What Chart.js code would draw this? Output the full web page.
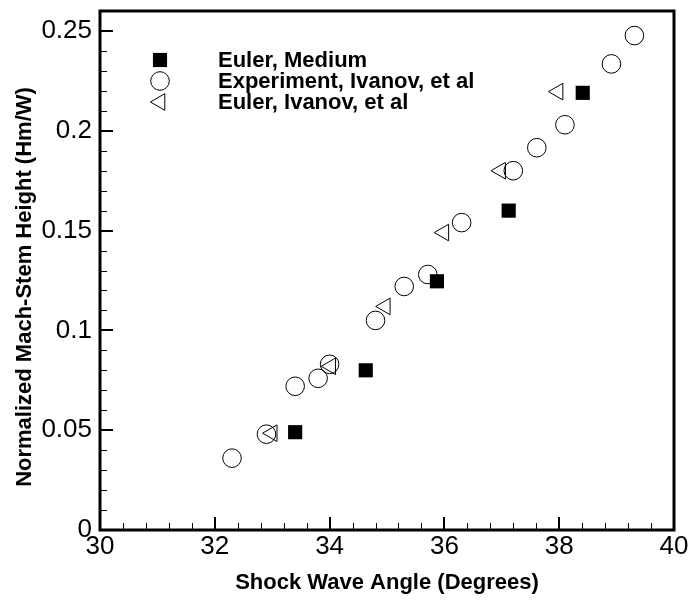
<!DOCTYPE html>
<html>
<head>
<meta charset="utf-8">
<title>Mach-stem height vs shock wave angle</title>
<script src="https://cdn.jsdelivr.net/npm/chart.js@4"></script>
<style>
  body { margin: 0; background: #fff; }
</style>
</head>
<body>
<canvas id="MyChart" width="691" height="603"></canvas>
<script>
// values
const eulerMediumX = [33.4, 34.63, 35.87, 37.12, 38.41];
const eulerMediumY = [0.049, 0.080, 0.1246, 0.160, 0.219];

const experimentX = [32.3, 32.9, 33.4, 33.8, 34.0, 34.8, 35.3, 35.71, 36.3, 37.2, 37.61, 38.1, 38.91, 39.31];
const experimentY = [0.036, 0.048, 0.072, 0.076, 0.083, 0.105, 0.122, 0.128, 0.154, 0.180, 0.1915, 0.203, 0.2335, 0.2477];

const eulerIvanovX = [33.0, 34.02, 34.97, 35.99, 36.98, 37.98];
const eulerIvanovY = [0.0485, 0.082, 0.112, 0.149, 0.180, 0.2196];

const seriesNames = ['Euler, Medium', 'Experiment, Ivanov, et al', 'Euler, Ivanov, et al'];

// tick labels
const xTicks = [30, 32, 34, 36, 38, 40];
const yTicks = [0, 0.05, 0.1, 0.15, 0.2, 0.25];

const yTitle = 'Normalized Mach-Stem Height (Hm/W)';

const FONT = "'Liberation Sans', Arial, Helvetica, sans-serif";

function toPoints(xs, ys) {
  return xs.map((x, i) => ({ x: x, y: ys[i] }));
}

// frame, inward ticks, y title and the legend box are drawn here
const decorations = {
  id: 'decorations',
  afterDraw(chart) {
    const ctx = chart.ctx;
    const area = chart.chartArea;
    const xs = chart.scales.x;
    const ys = chart.scales.y;
    ctx.save();
    ctx.strokeStyle = '#000';

    // minor ticks
    ctx.lineWidth = 1;
    ctx.beginPath();
    for (let v = 30; v <= 40.001; v += 0.4) {
      const px = Math.round(xs.getPixelForValue(v)) + 0.5;
      ctx.moveTo(px, area.bottom);
      ctx.lineTo(px, area.bottom - 7);
    }
    for (let v = 0; v <= 0.26; v += 0.01) {
      const py = Math.round(ys.getPixelForValue(v)) + 0.5;
      ctx.moveTo(area.left, py);
      ctx.lineTo(area.left + 7, py);
    }
    ctx.stroke();

    // major ticks
    ctx.lineWidth = 2;
    ctx.beginPath();
    xTicks.forEach((v) => {
      const px = Math.round(xs.getPixelForValue(v));
      ctx.moveTo(px, area.bottom);
      ctx.lineTo(px, area.bottom - 13);
    });
    yTicks.forEach((v) => {
      const py = Math.round(ys.getPixelForValue(v));
      ctx.moveTo(area.left, py);
      ctx.lineTo(area.left + 13, py);
    });
    ctx.stroke();

    // frame
    ctx.lineWidth = 3;
    ctx.strokeRect(area.left, area.top, area.right - area.left, area.bottom - area.top);

    // y axis title (sits a bit below the middle in the original)
    ctx.save();
    ctx.translate(25, 287);
    ctx.rotate(-Math.PI / 2);
    ctx.font = 'bold 22px ' + FONT;
    ctx.fillStyle = '#000';
    ctx.textAlign = 'center';
    ctx.textBaseline = 'middle';
    ctx.fillText(yTitle, 0, 0);
    ctx.restore();

    // legend
    ctx.font = 'bold 22px ' + FONT;
    ctx.textAlign = 'left';
    ctx.textBaseline = 'middle';
    chart.data.datasets.forEach((ds, i) => {
      const y = 60 + i * 21;
      ctx.fillStyle = ds.pointBackgroundColor;
      ctx.strokeStyle = '#000';
      ctx.lineWidth = ds.pointBorderWidth;
      Chart.helpers.drawPoint(ctx, {
        pointStyle: ds.pointStyle,
        radius: ds.pointRadius,
        rotation: ds.pointRotation || 0,
        borderWidth: ds.pointBorderWidth
      }, 160, y);
      ctx.fillStyle = '#000';
      ctx.fillText(ds.label, 218, y + 1);
    });
    ctx.restore();
  }
};

const ctx = document.getElementById('MyChart').getContext('2d');
const chart = new Chart(ctx, {
  type: 'scatter',
  data: {
    datasets: [
      {
        label: seriesNames[0],
        data: toPoints(eulerMediumX, eulerMediumY),
        pointStyle: 'rect',
        pointRadius: 10,
        pointBackgroundColor: '#000',
        pointBorderColor: '#000',
        pointBorderWidth: 0,
      },
      {
        label: seriesNames[1],
        data: toPoints(experimentX, experimentY),
        pointStyle: 'circle',
        pointRadius: 9.3,
        pointBackgroundColor: 'rgba(0,0,0,0)',
        pointBorderColor: '#000',
        pointBorderWidth: 1,
      },
      {
        label: seriesNames[2],
        data: toPoints(eulerIvanovX, eulerIvanovY),
        pointStyle: 'triangle',
        pointRotation: 270,
        pointRadius: 9.6,
        pointBackgroundColor: 'rgba(0,0,0,0)',
        pointBorderColor: '#000',
        pointBorderWidth: 1,
      },
    ],
  },
  options: {
    responsive: false,
    animation: false,
    devicePixelRatio: 1,
    layout: { padding: { top: 5, right: 17, left: 0, bottom: 0 } },
    plugins: {
      legend: { display: false },
      tooltip: { enabled: false },
    },
    elements: { point: { hoverRadius: 10 } },
    scales: {
      x: {
        type: 'linear',
        min: 30,
        max: 40,
        grid: { display: false, drawTicks: false },
        border: { display: false },
        afterBuildTicks: (scale) => {
          scale.ticks = xTicks.map((v) => ({ value: v }));
        },
        afterFit: (scale) => {
          scale.height = 73;
          scale.paddingLeft = 0;
          scale.paddingRight = 0;
        },
        ticks: {
          padding: 1,
          maxRotation: 0,
          color: '#000',
          font: { family: FONT, size: 26 },
          callback: (v) => String(v),
        },
        title: {
          display: true,
          text: 'Shock Wave Angle (Degrees)',
          color: '#000',
          font: { family: FONT, size: 22, weight: 'bold' },
          padding: { top: 0, bottom: 7 },
        },
      },
      y: {
        type: 'linear',
        min: 0,
        max: 0.26,
        grid: { display: false, drawTicks: false },
        border: { display: false },
        afterBuildTicks: (scale) => {
          scale.ticks = yTicks.map((v) => ({ value: v }));
        },
        afterFit: (scale) => {
          scale.width = 100;
          scale.paddingTop = 0;
          scale.paddingBottom = 0;
        },
        ticks: {
          padding: 8,
          color: '#000',
          font: { family: FONT, size: 26 },
          callback: (v) => String(v),
        },
      },
    },
  },
  plugins: [decorations],
});
</script>
</body>
</html>
